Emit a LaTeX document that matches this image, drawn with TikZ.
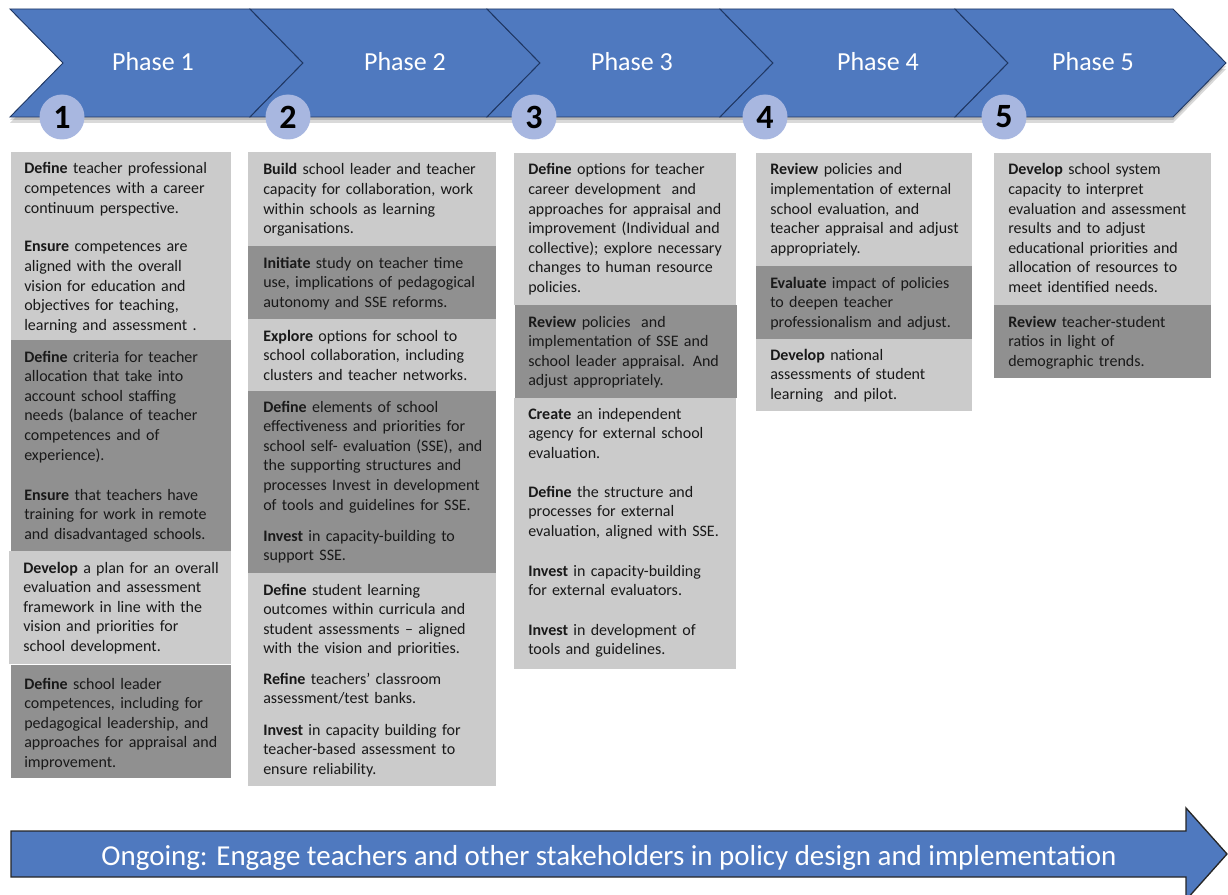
\documentclass[tikz,border=0pt]{standalone}
\usepackage{fontspec}
\setmainfont{Carlito}
\definecolor{phaseblue}{HTML}{4F79BF}
\definecolor{phaseline}{HTML}{1F3763}
\definecolor{numcircle}{HTML}{A8B7E0}
\definecolor{boxlight}{HTML}{CBCBCB}
\definecolor{boxdark}{HTML}{909090}
\tikzset{
  chevron/.style={fill=phaseblue, draw=phaseline, line width=.7pt},
  chevshadow/.style={fill=black, opacity=.15},
  phaselabel/.style={anchor=base, text=white, font=\fontsize{19.5}{23}\selectfont},
  numdot/.style={circle, fill=numcircle, minimum size=33.75pt, inner sep=0pt, font=\fontsize{25.5}{28}\selectfont\bfseries},
  celltext/.style={anchor=base west, inner sep=0pt, text width=200pt, align=left, text=black!90, font=\fontsize{12}{14.7}\selectfont},
  ongoingarrow/.style={fill=phaseblue, draw=black!85, line width=1pt},
}
\begin{document}
\begin{tikzpicture}[x=0.75pt, y=-0.75pt]
        \useasboundingbox (0,0) rectangle (1228,895);
        \foreach \dy in {3,6}
          \fill[chevshadow, yshift=-\dy*0.75pt] (63,63) -- (1226,63) -- (1173,117) -- (10,117) -- cycle;
        \foreach \L/\R/\cx [count=\i] in {10/250/153, 250/487/405, 487/720/632, 720/955/878, 955/1173/1093} {
          \draw[chevron] (\L,9) -- (\R,9) -- (\R+53,63) -- (\R,117) -- (\L,117) -- (\L+53,63) -- cycle;
          \node[phaselabel] (ph\i) at (\cx,71) {Phase \i};
        }
        \foreach \cx [count=\i] in {62, 288, 534, 765, 1004}
          \node[numdot] (num\i) at (\cx,117) {\i};

        \foreach \xa/\ya/\xb/\yb/\c in {11/152/231/340/boxlight, 11/340/231/551/boxdark, 9/551/231/664/boxlight, 11/665/231/778/boxdark,
            248/152/496/246/boxlight, 248/246/496/319/boxdark, 248/319/496/391/boxlight, 248/391/496/573/boxdark, 248/573/496/786/boxlight,
            514/153/736/305/boxlight, 515/305/737/398/boxdark, 514/398/736/669/boxlight,
            756/153/972/266/boxlight, 756/266/972/339/boxdark, 756/339/972/411/boxlight,
            994/153/1211/305/boxlight, 994/305/1211/378/boxdark}
          \fill[\c] (\xa,\ya) rectangle (\xb,\yb);

        \node[celltext] (c1a) at (24,174) {\textbf{Define} teacher professional\\competences with a career\\continuum perspective.};
        \node[celltext] (c1b) at (24,252) {\textbf{Ensure} competences are\\aligned with the overall\\vision for education and\\objectives for teaching,\\learning and assessment .};
        \node[celltext] (c1c) at (24,362) {\textbf{Define} criteria for teacher\\allocation that take into\\account school staffing\\needs (balance of teacher\\competences and of\\experience).};
        \node[celltext] (c1d) at (24,500) {\textbf{Ensure} that teachers have\\training for work in remote\\and disadvantaged schools.};
        \node[celltext] (c1e) at (23,573) {\textbf{Develop} a plan for an overall\\evaluation and assessment\\framework in line with the\\vision and priorities for\\school development.};
        \node[celltext] (c1f) at (24,689) {\textbf{Define} school leader\\competences, including for\\pedagogical leadership, and\\approaches for appraisal and\\improvement.};

        \node[celltext] (c2a) at (263,175) {\textbf{Build} school leader and teacher\\capacity for collaboration, work\\within schools as learning\\organisations.};
        \node[celltext] (c2b) at (263,268) {\textbf{Initiate} study on teacher time\\use, implications of pedagogical\\autonomy and SSE reforms.};
        \node[celltext] (c2c) at (263,341) {\textbf{Explore} options for school to\\school collaboration, including\\clusters and teacher networks.};
        \node[celltext] (c2d) at (263,412) {\textbf{Define} elements of school\\effectiveness and priorities for\\school self- evaluation (SSE), and\\the supporting structures and\\processes Invest in development\\of tools and guidelines for SSE.};
        \node[celltext] (c2e) at (263,541) {\textbf{Invest} in capacity-building to\\support SSE.};
        \node[celltext] (c2f) at (263,595) {\textbf{Define} student learning\\outcomes within curricula and\\student assessments – aligned\\with the vision and priorities.};
        \node[celltext] (c2g) at (263,684) {\textbf{Refine} teachers’ classroom\\assessment/test banks.};
        \node[celltext] (c2h) at (263,735) {\textbf{Invest} in capacity building for\\teacher-based assessment to\\ensure reliability.};

        \node[celltext] (c3a) at (528,175) {\textbf{Define} options for teacher\\career development\ \ and\\approaches for appraisal and\\improvement (Individual and\\collective); explore necessary\\changes to human resource\\policies.};
        \node[celltext] (c3b) at (528,327) {\textbf{Review} policies\ \ and\\implementation of SSE and\\school leader appraisal. And\\adjust appropriately.};
        \node[celltext] (c3c) at (528,419) {\textbf{Create} an independent\\agency for external school\\evaluation.};
        \node[celltext] (c3d) at (528,497) {\textbf{Define} the structure and\\processes for external\\evaluation, aligned with SSE.};
        \node[celltext] (c3e) at (528,576) {\textbf{Invest} in capacity-building\\for external evaluators.};
        \node[celltext] (c3f) at (528,635) {\textbf{Invest} in development of\\tools and guidelines.};

        \node[celltext] (c4a) at (770,175) {\textbf{Review} policies and\\implementation of external\\school evaluation, and\\teacher appraisal and adjust\\appropriately.};
        \node[celltext] (c4b) at (770,288) {\textbf{Evaluate} impact of policies\\to deepen teacher\\professionalism and adjust.};
        \node[celltext] (c4c) at (770,360) {\textbf{Develop} national\\assessments of student\\learning\ \ and pilot.};

        \node[celltext] (c5a) at (1008,175) {\textbf{Develop} school system\\capacity to interpret\\evaluation and assessment\\results and to adjust\\educational priorities and\\allocation of resources to\\meet identified needs.};
        \node[celltext] (c5b) at (1008,327) {\textbf{Review} teacher-student\\ratios in light of\\demographic trends.};

        \draw[ongoingarrow] (11,831) -- (1186,831) -- (1186,808) -- (1227,854) -- (1186,900) -- (1186,877) -- (11,877) -- cycle;
        \node[anchor=base, text=white, font=\fontsize{21.7}{25}\selectfont] (ongoing) at (609,865) {Ongoing: Engage teachers and other stakeholders in policy design and implementation};
\end{tikzpicture}
\end{document}
